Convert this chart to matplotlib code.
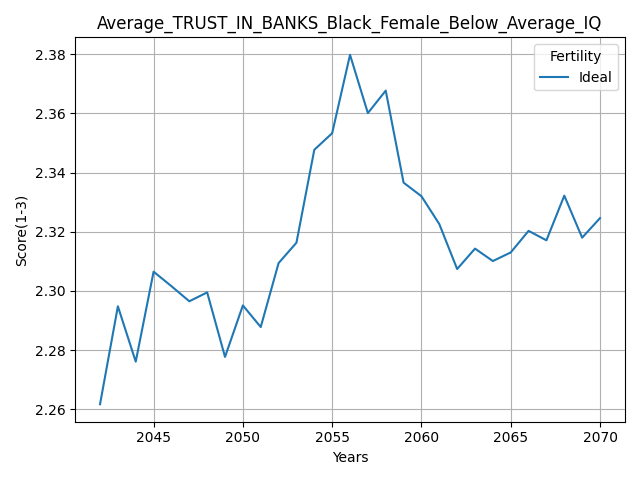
import matplotlib
matplotlib.use('Agg')
from matplotlib import pyplot as plt

years = list(range(2042, 2071))
ideal = [
    2.2617, 2.2948, 2.2761, 2.3065, 2.3016, 2.2965, 2.2995, 2.2777, 2.2951, 2.2878,
    2.3094, 2.3163, 2.3477, 2.3533, 2.3798, 2.3601, 2.3677, 2.3366, 2.3320, 2.3226,
    2.3074, 2.3143, 2.3101, 2.3130, 2.3203, 2.3171, 2.3322, 2.3180, 2.3246,
]

fig, ax = plt.subplots(figsize=(6.4, 4.8), dpi=100)
ax.plot(years, ideal, label='Ideal')
ax.set_title('Average_TRUST_IN_BANKS_Black_Female_Below_Average_IQ')
ax.set_xlabel('Years')
ax.set_ylabel('Score(1-3)')
ax.grid(True)
ax.legend(title='Fertility', loc='upper right')
fig.tight_layout()
fig.savefig('out.png')
